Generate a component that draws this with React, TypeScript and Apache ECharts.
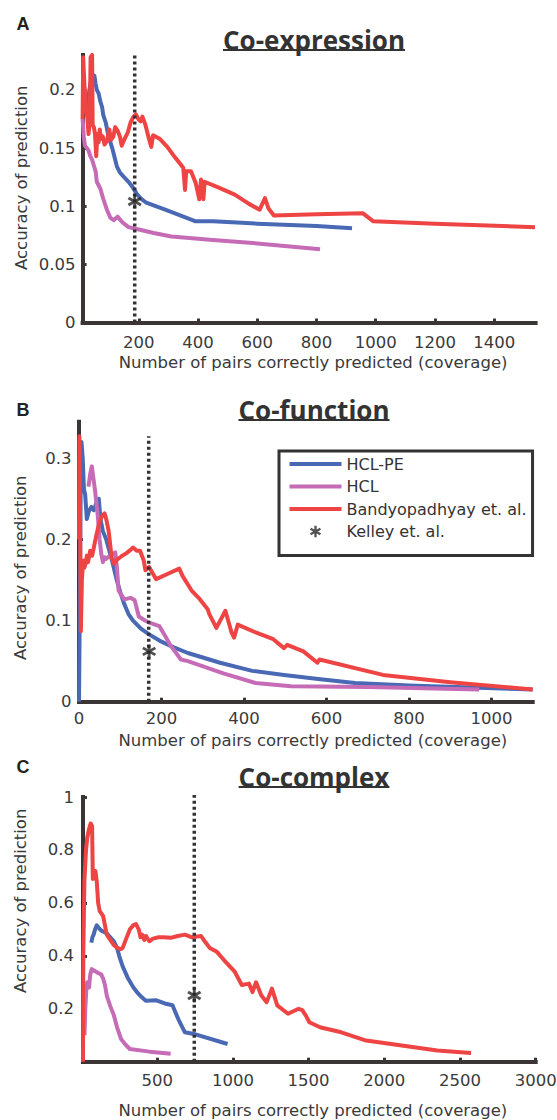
import React, { useEffect, useRef } from 'react';
import * as echarts from 'echarts';

const W = 557;
const H = 1120;

const FONT = '"DejaVu Sans", sans-serif';
const BLUE = '#4a69b5';
const PINK = '#c66cb6';
const RED = '#ef4444';
const AXIS = '#3b3536';
const TEXT = '#3a3a3a';

// ---------- Panel A: Co-expression ----------
const coexpBlue: number[][] = [[24,0.18],[30,0.195],[36,0.205],[44,0.213],[50,0.212],[54,0.205],[58,0.2],[64,0.197],[70,0.19],[76,0.185],[80,0.178],[88,0.172],[96,0.162],[104,0.155],[110,0.15],[118,0.142],[126,0.134],[136,0.129],[150,0.125],[165,0.121],[180,0.116],[192,0.111],[205,0.107],[225,0.103],[300,0.096],[392,0.087],[450,0.087],[600,0.085],[800,0.083],[920,0.081]];
const coexpPink: number[][] = [[10,0.175],[14,0.16],[18,0.152],[24,0.15],[30,0.148],[36,0.143],[42,0.14],[48,0.135],[54,0.13],[58,0.121],[64,0.118],[70,0.115],[80,0.106],[92,0.097],[104,0.09],[115,0.088],[128,0.091],[145,0.086],[165,0.082],[200,0.08],[250,0.077],[310,0.074],[450,0.071],[600,0.068],[812,0.063]];
const coexpRed: number[][] = [[10,0.175],[12,0.228],[16,0.205],[20,0.188],[26,0.176],[30,0.162],[34,0.172],[37,0.228],[42,0.23],[44,0.17],[48,0.168],[52,0.162],[56,0.143],[60,0.162],[64,0.155],[68,0.166],[72,0.158],[78,0.16],[84,0.153],[92,0.156],[100,0.166],[106,0.157],[114,0.16],[120,0.168],[128,0.165],[136,0.16],[142,0.152],[152,0.158],[162,0.163],[172,0.172],[182,0.177],[190,0.179],[198,0.175],[206,0.173],[212,0.177],[222,0.17],[234,0.158],[242,0.151],[248,0.161],[270,0.158],[296,0.151],[322,0.142],[350,0.133],[356,0.114],[360,0.13],[376,0.13],[392,0.12],[404,0.106],[410,0.123],[418,0.106],[422,0.121],[470,0.116],[524,0.11],[572,0.102],[608,0.097],[626,0.107],[638,0.098],[656,0.092],[800,0.093],[956,0.094],[992,0.087],[1200,0.085],[1538,0.082]];
const coexpKelley: number[][] = [[186, 0.104]];
const coexpCutoff = 186;
const coexpCutoffTop = 0.2315;
const coexpXTicks = [200, 400, 600, 800, 1000, 1200, 1400];
const coexpYTicks = [0, 0.05, 0.1, 0.15, 0.2];

// ---------- Panel B: Co-function ----------
const cofuncBlue: number[][] = [[0,0],[2,0.12],[4,0.26],[6,0.32],[9,0.3],[12,0.262],[15,0.255],[19,0.225],[24,0.235],[30,0.24],[36,0.236],[42,0.245],[48,0.25],[52,0.225],[58,0.21],[66,0.2],[74,0.185],[82,0.17],[92,0.149],[100,0.135],[110,0.12],[120,0.108],[131,0.1],[150,0.09],[170,0.083],[196,0.075],[230,0.067],[264,0.06],[342,0.048],[420,0.038],[497,0.033],[580,0.028],[669,0.023],[800,0.02],[1100,0.015]];
const cofuncPink: number[][] = [[23,0.265],[27,0.28],[31,0.29],[35,0.275],[39,0.26],[42,0.245],[45,0.232],[50,0.2],[54,0.182],[58,0.172],[62,0.178],[66,0.176],[75,0.18],[82,0.182],[88,0.184],[92,0.165],[96,0.137],[102,0.132],[110,0.126],[125,0.128],[135,0.125],[145,0.105],[160,0.1],[172,0.097],[195,0.093],[210,0.08],[221,0.07],[247,0.052],[264,0.05],[350,0.035],[428,0.023],[514,0.019],[700,0.018],[970,0.015]];
const cofuncRed: number[][] = [[0,0.2],[1,0.327],[3,0.2],[4.5,0.087],[7,0.15],[10,0.174],[13,0.165],[16,0.17],[19,0.18],[22,0.172],[27,0.186],[32,0.18],[36,0.19],[42,0.205],[49,0.22],[55,0.228],[62,0.232],[66,0.225],[72,0.21],[79,0.178],[85,0.17],[92,0.175],[100,0.178],[105,0.18],[115,0.183],[125,0.187],[131,0.19],[140,0.186],[148,0.186],[157,0.174],[161,0.162],[170,0.166],[187,0.151],[217,0.158],[243,0.164],[251,0.155],[273,0.137],[290,0.128],[312,0.114],[316,0.108],[333,0.091],[355,0.112],[370,0.085],[376,0.079],[385,0.095],[430,0.085],[471,0.077],[497,0.066],[505,0.07],[544,0.062],[578,0.048],[583,0.052],[737,0.033],[900,0.024],[1100,0.015]];
const cofuncKelley: number[][] = [[170, 0.062]];
const cofuncCutoff = 169;
const cofuncCutoffTop = 0.327;
const cofuncXTicks = [0, 200, 400, 600, 800, 1000];
const cofuncYTicks = [0, 0.1, 0.2, 0.3];

// ---------- Panel C: Co-complex ----------
const cocomplexBlue: number[][] = [[65,0.45],[72,0.47],[80,0.48],[90,0.5],[101,0.515],[115,0.505],[131,0.495],[150,0.49],[167,0.485],[190,0.47],[214,0.455],[235,0.43],[249,0.4],[272,0.36],[308,0.314],[343,0.28],[366,0.263],[395,0.245],[425,0.23],[495,0.232],[550,0.22],[601,0.213],[640,0.16],[683,0.111],[742,0.105],[965,0.067]];
const cocomplexPink: number[][] = [[20,0.1],[25,0.2],[32,0.27],[38,0.3],[45,0.3],[50,0.28],[58,0.33],[68,0.35],[80,0.345],[96,0.34],[110,0.335],[130,0.33],[143,0.314],[155,0.29],[167,0.25],[190,0.21],[214,0.175],[235,0.13],[261,0.086],[290,0.065],[319,0.048],[450,0.038],[589,0.03]];
const cocomplexRed: number[][] = [[10,0],[12,0.4],[19,0.68],[30,0.8],[38,0.846],[50,0.88],[61,0.9],[70,0.89],[75,0.69],[80,0.72],[92,0.72],[101,0.68],[110,0.6],[120,0.57],[143,0.55],[167,0.48],[190,0.46],[214,0.44],[237,0.43],[260,0.425],[272,0.43],[296,0.466],[320,0.5],[343,0.516],[360,0.52],[378,0.5],[390,0.47],[401,0.48],[415,0.46],[425,0.475],[448,0.455],[472,0.465],[510,0.47],[542,0.47],[589,0.468],[636,0.475],[683,0.48],[730,0.47],[789,0.475],[820,0.45],[847,0.43],[894,0.415],[941,0.384],[1012,0.34],[1059,0.29],[1106,0.295],[1129,0.263],[1153,0.3],[1188,0.25],[1223,0.225],[1258,0.276],[1293,0.213],[1364,0.181],[1434,0.2],[1458,0.195],[1481,0.175],[1505,0.149],[1575,0.13],[1716,0.111],[1880,0.08],[2045,0.067],[2350,0.042],[2573,0.033]];
const cocomplexKelley: number[][] = [[745, 0.25]];
const cocomplexCutoff = 745;
const cocomplexCutoffTop = 1.008;
const cocomplexXTicks = [500, 1000, 1500, 2000, 2500, 3000];
const cocomplexYTicks = [0.2, 0.4, 0.6, 0.8, 1];

const X_NAME = 'Number of pairs correctly predicted (coverage)';
const Y_NAME = 'Accuracy of prediction';
const LEGEND_NAMES = ['HCL-PE', 'HCL', 'Bandyopadhyay et. al.', 'Kelley et. al.'];

const STAR =
  'path://M-2,-10L2,-10L2,10L-2,10Z M9.66,3.27L7.66,6.73L-9.66,-3.27L-7.66,-6.73Z M-7.66,6.73L-9.66,3.27L7.66,-6.73L9.66,-3.27Z';
const STAR_LEGEND =
  'path://M-14,-14L-14,-14Z M14,14L14,14Z M-2,-10L2,-10L2,10L-2,10Z M9.66,3.27L7.66,6.73L-9.66,-3.27L-7.66,-6.73Z M-7.66,6.73L-9.66,3.27L7.66,-6.73L9.66,-3.27Z';
const LINE_ICON = 'path://M0,0H52V4H0Z';

function measure(text: string, font: string): number {
  const ctx = document.createElement('canvas').getContext('2d');
  if (!ctx) return text.length * 14;
  ctx.font = font;
  return ctx.measureText(text).width;
}

function xAxisCfg(gridIndex: number, min: number, max: number, ticks: number[], margin: number, nameGap: number, padLeft: number) {
  return {
    type: 'value',
    gridIndex,
    min,
    max,
    name: X_NAME,
    nameLocation: 'middle',
    nameGap,
    nameMoveOverlap: false,
    nameTextStyle: { fontFamily: FONT, fontSize: 16.5, color: TEXT, padding: [0, 0, 0, padLeft] },
    axisLine: { onZero: false, lineStyle: { color: AXIS, width: 4, cap: 'square' } },
    axisTick: { inside: true, length: 4, lineStyle: { color: AXIS, width: 3 }, customValues: ticks },
    axisLabel: { customValues: ticks, margin, fontFamily: FONT, fontSize: 16.5, color: TEXT, formatter: (v: number) => String(v) },
    splitLine: { show: false },
  };
}

function yAxisCfg(gridIndex: number, max: number, ticks: number[], margin: number, nameGap: number, pad: number[]) {
  return {
    type: 'value',
    gridIndex,
    min: 0,
    max,
    name: Y_NAME,
    nameLocation: 'middle',
    nameGap,
    nameMoveOverlap: false,
    nameTextStyle: { fontFamily: FONT, fontSize: 16.5, color: TEXT, padding: pad },
    axisLine: { onZero: false, lineStyle: { color: AXIS, width: 4, cap: 'square' } },
    axisTick: { inside: true, length: 4, lineStyle: { color: AXIS, width: 3 }, customValues: ticks },
    axisLabel: { customValues: ticks, margin, fontFamily: FONT, fontSize: 16.5, color: TEXT, formatter: (v: number) => String(v) },
    splitLine: { show: false },
  };
}

function panelSeries(idx: number, blue: number[][], pink: number[][], red: number[][], kelley: number[][], cutoff: number, cutoffTop: number) {
  const base = { xAxisIndex: idx, yAxisIndex: idx };
  const line = (name: string, data: number[][], color: string, z: number) => ({
    ...base,
    type: 'line',
    name,
    data,
    symbol: 'none',
    showSymbol: false,
    z,
    lineStyle: { color, width: 4, join: 'round' },
    itemStyle: { color },
  });
  return [
    line('HCL-PE', blue, BLUE, 2),
    line('HCL', pink, PINK, 3),
    line('Bandyopadhyay et. al.', red, RED, 4),
    {
      ...base,
      type: 'line',
      data: [[cutoff, 0], [cutoff, cutoffTop]],
      symbol: 'none',
      showSymbol: false,
      clip: false,
      silent: true,
      z: 5,
      lineStyle: { color: '#333333', width: 3.5, type: [3, 3] },
      itemStyle: { color: '#333333' },
    },
    {
      ...base,
      type: 'scatter',
      name: 'Kelley et. al.',
      data: kelley,
      symbol: STAR,
      symbolSize: 14,
      z: 6,
      itemStyle: { color: '#262626' },
    },
  ];
}

function buildOption() {
  const titleFont = 'bold 26px "Open Sans"';
  const titles = [
    { text: 'Co-expression', top: 27 },
    { text: 'Co-function', top: 397 },
    { text: 'Co-complex', top: 764 },
  ];
  const letters = [
    { text: 'A', top: 15 },
    { text: 'B', top: 401 },
    { text: 'C', top: 758 },
  ];
  const cx = 314;
  const graphics: any[] = [];
  titles.forEach((t) => {
    const w = measure(t.text, titleFont);
    graphics.push({
      type: 'text',
      x: cx,
      y: t.top,
      style: {
        text: t.text,
        font: titleFont,
        fill: '#333333',
        align: 'center',
        textAlign: 'center',
        verticalAlign: 'top',
        textVerticalAlign: 'top',
      },
    });
    graphics.push({
      type: 'line',
      shape: { x1: cx - w / 2, y1: t.top + 23, x2: cx + w / 2, y2: t.top + 23 },
      style: { stroke: '#333333', lineWidth: 2 },
    });
  });
  letters.forEach((l) => {
    graphics.push({
      type: 'text',
      x: 16.5,
      y: l.top,
      style: {
        text: l.text,
        font: 'bold 18px "Liberation Sans", Arial, sans-serif',
        fill: '#222222',
        align: 'left',
        textAlign: 'left',
        verticalAlign: 'top',
        textVerticalAlign: 'top',
      },
    });
  });

  return {
    animation: false,
    backgroundColor: '#ffffff',
    graphic: graphics,
    legend: {
      show: true,
      orient: 'vertical',
      left: 279,
      top: 451,
      padding: [5, 6, 16, 10.5],
      itemWidth: 52,
      itemHeight: 16,
      itemGap: 6.5,
      borderColor: '#333333',
      borderWidth: 3,
      backgroundColor: '#ffffff',
      selectedMode: false,
      itemStyle: { borderWidth: 0 },
      textStyle: { fontFamily: FONT, fontSize: 16, color: '#333333', lineHeight: 16 },
      data: [
        { name: LEGEND_NAMES[0], icon: LINE_ICON },
        { name: LEGEND_NAMES[1], icon: LINE_ICON },
        { name: LEGEND_NAMES[2], icon: LINE_ICON },
        { name: LEGEND_NAMES[3], icon: STAR_LEGEND },
      ],
    },
    grid: [
      { left: 82.6, top: 55, width: 453, height: 267.5, outerBoundsMode: 'none', containLabel: false },
      { left: 79, top: 421.7, width: 453.7, height: 280, outerBoundsMode: 'none', containLabel: false },
      { left: 83, top: 797, width: 452.7, height: 264.7, outerBoundsMode: 'none', containLabel: false },
    ],
    xAxis: [
      xAxisCfg(0, 10, 1540, coexpXTicks, 11, 31, 8),
      xAxisCfg(1, 0, 1100, cofuncXTicks, 8, 30, 14),
      xAxisCfg(2, 10, 3000, cocomplexXTicks, 10.5, 40, 7),
    ],
    yAxis: [
      yAxisCfg(0, 0.23, coexpYTicks, 7, 53, [0, 0, 0, 22]),
      yAxisCfg(1, 0.345, cofuncYTicks, 7.5, 50, [0, 12, 0, 0]),
      yAxisCfg(2, 1, cocomplexYTicks, 9, 54, [0, 0, 0, 57]),
    ],
    series: [
      ...panelSeries(0, coexpBlue, coexpPink, coexpRed, coexpKelley, coexpCutoff, coexpCutoffTop),
      ...panelSeries(1, cofuncBlue, cofuncPink, cofuncRed, cofuncKelley, cofuncCutoff, cofuncCutoffTop),
      ...panelSeries(2, cocomplexBlue, cocomplexPink, cocomplexRed, cocomplexKelley, cocomplexCutoff, cocomplexCutoffTop),
    ],
  };
}

export default function App() {
  const ref = useRef<HTMLDivElement>(null);
  useEffect(() => {
    document.body.style.margin = '0';
    const el = ref.current;
    if (!el) return;
    const chart = echarts.init(el, null, { renderer: 'svg', width: W, height: H });
    chart.setOption(buildOption() as any);
    return () => {
      chart.dispose();
    };
  }, []);
  return <div ref={ref} style={{ width: W, height: H, background: '#ffffff' }} />;
}
